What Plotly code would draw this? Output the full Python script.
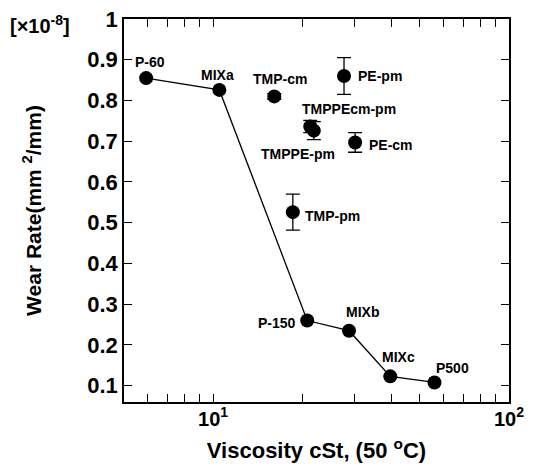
import plotly.graph_objects as go
import math

# Base oils / mixtures (connected by line)
line_names = ["P-60", "MIXa", "P-150", "MIXb", "MIXc", "P500"]
line_visc = [5.94, 10.5, 20.8, 28.8, 39.7, 56.0]
line_wear = [0.855, 0.826, 0.260, 0.235, 0.123, 0.108]

# Ester additives (with error bars)
est_names = ["TMP-cm", "PE-pm", "TMPPEcm-pm", "TMPPE-pm", "PE-cm", "TMP-pm"]
est_visc = [16.1, 27.7, 21.3, 21.9, 30.2, 18.6]
est_wear = [0.810, 0.860, 0.736, 0.726, 0.697, 0.526]
est_err = [0.007, 0.045, 0.015, 0.022, 0.024, 0.044]

x_ticks = [6, 7, 8, 9, 10, 20, 30, 40, 50, 60, 70, 80, 90, 100]
x_ticklabels = ["", "", "", "", "10<sup>1</sup>", "", "", "", "", "", "", "", "", "10<sup>2</sup>"]
y_ticks = [0.1, 0.2, 0.3, 0.4, 0.5, 0.6, 0.7, 0.8, 0.9, 1.0]
y_ticklabels = ["0.1", "0.2", "0.3", "0.4", "0.5", "0.6", "0.7", "0.8", "0.9", "1"]

FONT = "Liberation Sans, Arial, sans-serif"

fig = go.Figure()
fig.add_trace(go.Scatter(
    x=line_visc, y=line_wear, mode="lines+markers",
    line=dict(color="black", width=1.3),
    marker=dict(color="black", size=14),
    showlegend=False))
fig.add_trace(go.Scatter(
    x=est_visc, y=est_wear, mode="markers",
    marker=dict(color="black", size=14),
    error_y=dict(type="data", array=est_err, color="black", thickness=1.3, width=7),
    showlegend=False))

# label offsets (pixels) relative to points
offsets = {
    "P-60": (4, 16, "center"),
    "MIXa": (-2, 15, "center"),
    "P-150": (-9, -2, "right"),
    "MIXb": (13, 19, "center"),
    "MIXc": (8, 19, "center"),
    "P500": (18, 14, "center"),
    "TMP-cm": (6, 17, "center"),
    "PE-pm": (12, 0, "left"),
    "TMPPEcm-pm": (39, 18, "center"),
    "TMPPE-pm": (-16, -23, "center"),
    "PE-cm": (12, -3, "left"),
    "TMP-pm": (10, -4, "left"),
}
for n, xv, yv in list(zip(line_names, line_visc, line_wear)) + list(zip(est_names, est_visc, est_wear)):
    dx, dy, anc = offsets[n]
    fig.add_annotation(x=math.log10(xv), y=yv, xref="x", yref="y", text=n,
                       showarrow=False, xshift=dx, yshift=dy, xanchor=anc,
                       font=dict(family=FONT, size=14, color="black", weight="bold"))

fig.add_annotation(x=-0.301, y=1.0, xref="paper", yref="paper", text="[×10<sup>-8</sup>]",
                   showarrow=False, xanchor="left", yanchor="middle", yshift=-5,
                   font=dict(family=FONT, size=20, color="black", weight="bold"))

axis_common = dict(showgrid=False, zeroline=False, showline=True, linecolor="black",
                   linewidth=1.5, mirror="ticks", ticks="inside", ticklen=8,
                   tickwidth=1, tickcolor="black", automargin=False,
                   ticklabeloverflow="allow")
fig.update_xaxes(type="log", range=[math.log10(5), 2], tickvals=x_ticks, ticktext=x_ticklabels,
                 tickfont=dict(family=FONT, size=20, color="black", weight="bold"),
                 ticklabelstandoff=-2,
                 title=dict(text="Viscosity cSt, (50 <sup>o</sup>C)", standoff=14,
                            font=dict(family=FONT, size=22, color="black", weight="bold")),
                 **axis_common)
fig.update_yaxes(range=[0.06, 1.0], tickvals=y_ticks, ticktext=y_ticklabels,
                 tickfont=dict(family=FONT, size=22, color="black", weight="bold"),
                 title=dict(text="Wear Rate(mm <sup>2</sup>/mm)", standoff=40,
                            font=dict(family=FONT, size=21, color="black", weight="bold")),
                 **axis_common)
# page body has an 8px margin; figure sized so the plot area lands where the reference has it
fig.update_layout(width=527, height=463, margin=dict(l=116, r=26, t=11, b=69),
                  plot_bgcolor="white", paper_bgcolor="white")
fig.write_html("out.html")
